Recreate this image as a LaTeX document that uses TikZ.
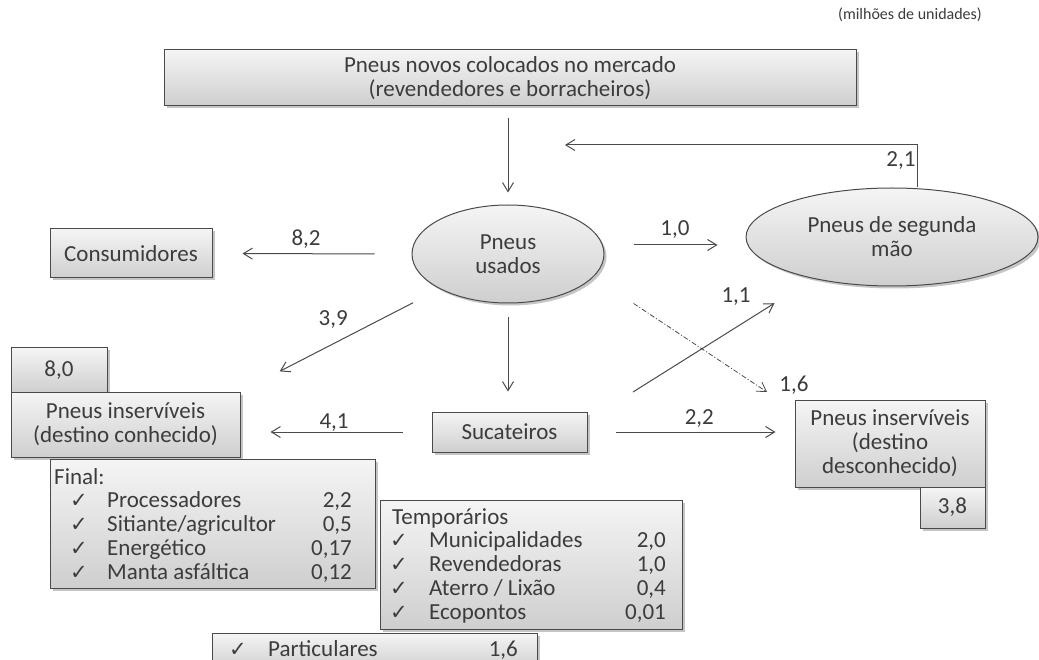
\documentclass[tikz,border=0pt]{standalone}
\usepackage{fontspec}
\setmainfont{Carlito}
\newfontfamily\chkfont{DejaVu Sans}
\usetikzlibrary{arrows.meta,shadows,shapes.geometric,positioning}
\definecolor{txtgray}{HTML}{3C3C3C}
\definecolor{linegray}{HTML}{4A4A4A}
\newcommand\mainsize{\fontsize{23}{24}\selectfont}
\newcommand\chk{{\chkfont\fontsize{21}{21}\selectfont ✓}}
\tikzset{
    pbox/.style = {draw=linegray, line width=1pt, top color=gray!8, bottom color=gray!38,
        drop shadow={shadow xshift=2.5pt, shadow yshift=-2.5pt, opacity=.45},
        inner sep=0pt, align=center, text=txtgray, font=\mainsize},
    pell/.style = {pbox, ellipse},
    val/.style  = {inner sep=0pt, text=txtgray, font=\mainsize},
    flow/.style = {draw=linegray, line width=1pt, -{Straight Barb[length=9pt,width=11pt]}},
    dashdot/.style = {line width=.8pt, dash pattern=on 5pt off 2pt on 1pt off 2pt}
}

\begin{document}
\begin{tikzpicture}[x=1pt, y=-1pt]
    \useasboundingbox (0,0) rectangle (1039,660);
    \fill[white] (0,0) rectangle (1039,660);

    \node[val, font=\fontsize{16}{16}\selectfont] (unid) at (910,15) {(milhões de unidades)};

    % caixas e elipses
    \node[pbox, minimum width=692pt, minimum height=56pt] (topbox) at (510,78)
        {Pneus novos colocados no mercado\\(revendedores e borracheiros)};
    \node[pell, minimum width=192pt, minimum height=98pt] (usados) at (508,254) {Pneus\\usados};
    \node[pell, minimum width=292pt, minimum height=98pt] (segunda) at (892,237) {Pneus de segunda\\mão};
    \node[pbox, minimum width=162pt, minimum height=49pt] (consumidores) at (131,253.5) {Consumidores};
    \node[pbox, minimum width=96pt, minimum height=44pt] (v80) at (59,370) {8,0};
    \node[pbox, minimum width=229pt, minimum height=65pt] (conhecido) at (125.5,424.5)
        {Pneus inservíveis\\(destino conhecido)};
    \node[pbox, minimum width=155pt, minimum height=40pt] (sucateiros) at (509.5,432) {Sucateiros};
    \node[pbox, minimum width=190pt, minimum height=87pt] (desconhecido) at (890,443.5)
        {Pneus inservíveis\\(destino\\desconhecido)};
    \node[pbox, minimum width=65pt, minimum height=41pt] (v38) at (952.5,507.5) {3,8};
    \node[pbox, minimum width=325pt, minimum height=129pt] (final) at (212.5,523.5) {};
    \node[pbox, minimum width=302pt, minimum height=129pt] (temp) at (531,564.5) {};
    \node[pbox, minimum width=325pt, minimum height=37pt] (part) at (374.5,651.5) {};

    % listas
    \node[val, anchor=base west] (fin-t) at (54,484) {Final:};
    \foreach \nome/\num [count=\i] in {Processadores/{2,2}, {Sitiante/agricultor}/{0,5},
            Energético/{0,17}, {Manta asfáltica}/{0,12}} {
        \node[val, anchor=base] (fin-c\i) at (79,483+24*\i) {\chk};
        \node[val, anchor=base west] (fin-n\i) at (107,483+24*\i) {\nome};
        \node[val, anchor=base east] (fin-v\i) at (352,483+24*\i) {\num};
    }
    \node[val, anchor=base west] (tmp-t) at (392,524) {Temporários};
    \foreach \nome/\num [count=\i] in {Municipalidades/{2,0}, Revendedoras/{1,0},
            {Aterro / Lixão}/{0,4}, Ecopontos/{0,01}} {
        \node[val, anchor=base] (tmp-c\i) at (399,523+24*\i) {\chk};
        \node[val, anchor=base west] (tmp-n\i) at (429,523+24*\i) {\nome};
        \node[val, anchor=base east] (tmp-v\i) at (666,523+24*\i) {\num};
    }
    \node[val, anchor=base] (prt-c) at (238,656) {\chk};
    \node[val, anchor=base west] (prt-n) at (268,656) {Particulares};
    \node[val, anchor=base east] (prt-v) at (518,656) {1,6};

    % fluxos
    \coordinate (ret) at (565,145);
    \coordinate (c11) at (633,392);
    \coordinate (c16) at (767,392);

    \draw[flow, shorten <=12pt, shorten >=12pt] (topbox.south -| usados.north) -- (usados.north);
    \draw[flow] ([xshift=25pt]segunda.north) |- node[val, pos=.5, below left=6pt and 1pt] (l21) {2,1} (ret);
    \draw[flow, shorten <=37pt, shorten >=30pt] (usados.west) -- (consumidores.east)
        node[val, pos=.53, above=5pt] (l82) {8,2};
    \draw[flow, shorten <=29pt, shorten >=28pt] ([yshift=9pt]usados.east) -- ([yshift=-8pt]segunda.west)
        node[val, pos=.5, above=6pt] (l10) {1,0};
    \draw[flow, shorten <=30pt, shorten >=44pt] (usados.south west) -- (conhecido.north east)
        node[val, pos=.535, above=15pt] (l39) {3,9};
    \draw[flow, shorten <=14pt, shorten >=20pt] (usados.south) -- (usados.south |- sucateiros.north);
    \draw[flow, shorten <=29pt, shorten >=30pt] (sucateiros.west) -- (sucateiros.west -| conhecido.east)
        node[val, pos=.51, above=0pt] (l41) {4,1};
    \draw[flow, shorten <=28pt, shorten >=19pt] (sucateiros.east) -- (sucateiros.east -| desconhecido.west)
        node[val, pos=.54, above=4pt] (l22) {2,2};
    \draw[flow, shorten >=46pt] (c11) -- (segunda.208)
        node[val, pos=.571, above=21pt] (l11) {1,1};
    \draw[flow, dashdot, shorten <=48pt] (usados.345) -- (c16)
        node[val, pos=1, right=12pt, yshift=7pt] (l16) {1,6};
\end{tikzpicture}
\end{document}
